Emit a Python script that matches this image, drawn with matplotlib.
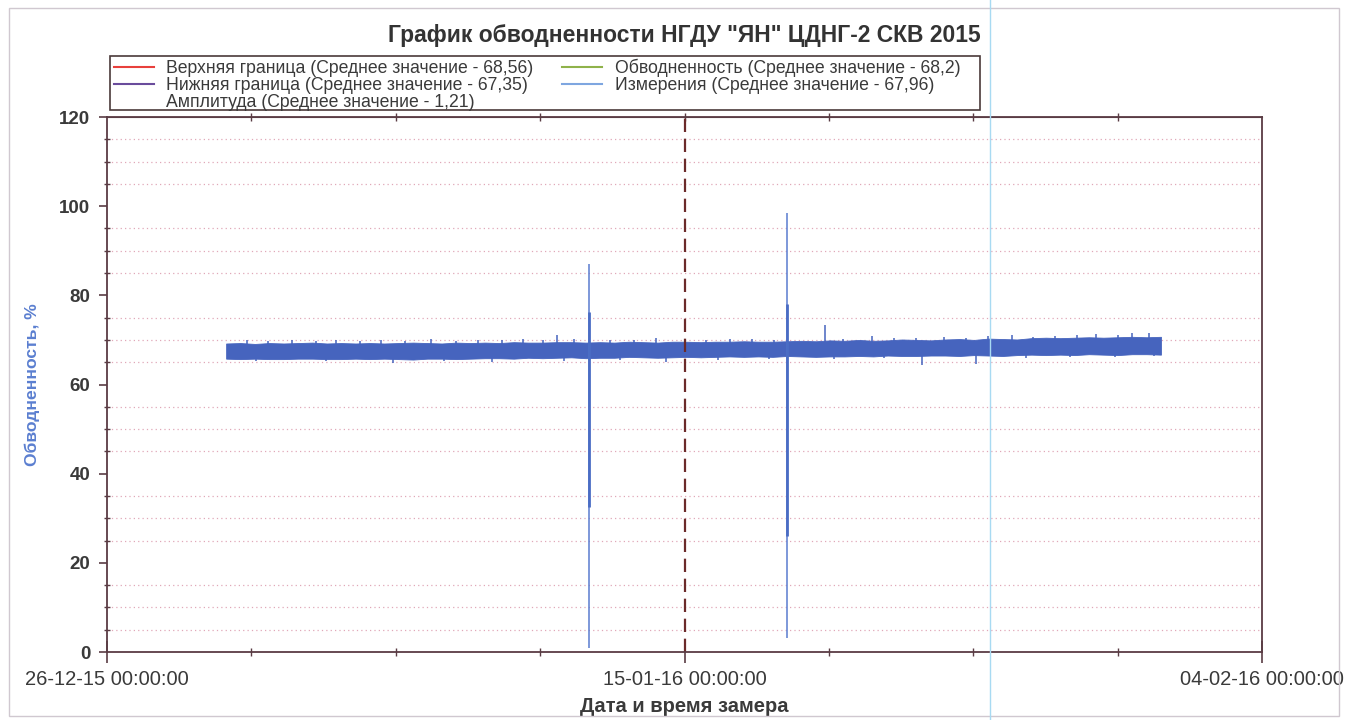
import numpy as np
import pandas as pd
import matplotlib
matplotlib.use("Agg")
import matplotlib.pyplot as plt
import matplotlib.dates as mdates
from matplotlib.lines import Line2D

plt.rcParams["font.family"] = ["Liberation Sans", "DejaVu Sans"]

# --- данные ---
band_start = "2015-12-30 03:00"
band_end = "2016-01-31 12:00"

# верхняя и нижняя огибающая плотного "шума" измерений, %
band_upper = [69.2, 69.3, 69.1, 69.3, 69.2, 69.3, 69.4, 69.2, 69.3, 69.2,
              69.3, 69.2, 69.3, 69.4, 69.3, 69.2, 69.4, 69.3,
              69.4, 69.3, 69.5, 69.4, 69.4, 69.5, 69.5, 69.4,
              69.5, 69.4, 69.6, 69.5, 69.4, 69.6, 69.6, 69.5,
              69.6, 69.6, 69.7, 69.6, 69.6, 69.7, 69.8, 69.7,
              69.9, 69.8, 70.0, 69.8, 69.9, 70.1, 70.0, 69.9,
              70.1, 70.2, 70.0, 70.3, 70.2, 70.1, 70.4, 70.5,
              70.4, 70.5, 70.6, 70.5, 70.6, 70.7, 70.6, 70.7]
band_lower = [65.8, 65.7, 65.8, 65.7, 65.7, 65.8, 65.8, 65.7, 65.7, 65.8,
              65.7, 65.8, 65.7, 65.6, 65.8, 65.8, 65.7, 65.8,
              65.9, 65.9, 65.8, 66.0, 65.9, 66.0, 66.1, 65.9,
              66.0, 66.0, 66.2, 66.1, 66.0, 66.1, 66.2, 66.1,
              66.2, 66.3, 66.2, 66.3, 66.2, 66.4, 66.3, 66.2,
              66.3, 66.3, 66.4, 66.3, 66.5, 66.4, 66.4, 66.5,
              66.5, 66.4, 66.6, 66.5, 66.4, 66.6, 66.7, 66.6,
              66.7, 66.6, 66.8, 66.7, 66.6, 66.8, 66.8, 66.7]

# отдельные выбросы над полосой
up_times = ["2015-12-30 20:00", "2015-12-31 14:00", "2016-01-01 10:00",
            "2016-01-02 06:00", "2016-01-02 22:00", "2016-01-03 18:00",
            "2016-01-04 12:00", "2016-01-05 08:00", "2016-01-06 05:00",
            "2016-01-07 02:00", "2016-01-07 20:00", "2016-01-08 16:00",
            "2016-01-09 10:00", "2016-01-10 02:00", "2016-01-10 14:00",
            "2016-01-11 04:00", "2016-01-12 10:00", "2016-01-13 06:00",
            "2016-01-14 00:00", "2016-01-15 18:00", "2016-01-16 14:00",
            "2016-01-17 08:00", "2016-01-18 02:00", "2016-01-19 21:00",
            "2016-01-20 12:00", "2016-01-21 12:00", "2016-01-22 06:00",
            "2016-01-23 00:00", "2016-01-24 00:00", "2016-01-24 18:00",
            "2016-01-25 12:00", "2016-01-26 08:00", "2016-01-27 02:00",
            "2016-01-27 20:00", "2016-01-28 14:00", "2016-01-29 06:00",
            "2016-01-30 00:00", "2016-01-30 12:00", "2016-01-31 02:00"]
up_vals = [69.9, 69.8, 69.9, 69.7, 70.0, 69.8, 69.9, 69.7, 70.1, 69.8,
           69.9, 70.0, 70.3, 69.9, 71.0, 70.3, 69.9, 70.0, 70.4, 70.0,
           70.1, 70.2, 70.0, 73.3, 70.3, 70.8, 70.4, 70.5, 70.6, 70.4,
           70.9, 71.0, 70.6, 70.8, 71.0, 71.4, 71.1, 71.6, 71.5]

# отдельные выбросы под полосой
down_times = ["2015-12-31 04:00", "2016-01-02 14:00", "2016-01-04 22:00",
              "2016-01-06 16:00", "2016-01-08 08:00", "2016-01-10 20:00",
              "2016-01-12 18:00", "2016-01-14 09:00", "2016-01-16 04:00",
              "2016-01-17 22:00", "2016-01-20 04:00", "2016-01-21 22:00",
              "2016-01-23 05:00", "2016-01-25 02:00", "2016-01-26 20:00",
              "2016-01-28 08:00", "2016-01-29 22:00", "2016-01-31 06:00"]
down_vals = [65.2, 65.3, 64.8, 65.2, 65.1, 65.3, 65.4, 65.0, 65.6,
             65.7, 65.8, 65.9, 64.3, 64.6, 66.0, 66.1, 66.2, 66.3]

# большие выбросы (тонкая часть и толстая часть)
spike_times = ["2016-01-11 16:20", "2016-01-18 13:10"]
spike_low = [0.8, 3.2]
spike_high = [87.0, 98.5]
spike_core_low = [32.5, 26.0]
spike_core_high = [76.3, 78.0]

legend_labels = ["Верхняя граница (Среднее значение - 68,56)",
                 "Нижняя граница (Среднее значение - 67,35)",
                 "Амплитуда (Среднее значение - 1,21)",
                 "Обводненность (Среднее значение - 68,2)",
                 "Измерения (Среднее значение - 67,96)"]
legend_colors = ["#e8403c", "#6a4c9c", "none", "#8fb24a", "#7ea6e0"]

x_start = pd.Timestamp("2015-12-26")
x_mid = pd.Timestamp("2016-01-15")
x_end = pd.Timestamp("2016-02-04")

blue = "#4664be"
frame = "#5a3c44"

fig = plt.figure(figsize=(13.48, 7.2), dpi=100)
ax = fig.add_axes([0.0794, 0.0944, 0.8568, 0.7431])

band_t = pd.date_range(band_start, band_end, periods=len(band_upper))
ax.fill_between(band_t, band_lower, band_upper, color=blue, lw=0.6, edgecolor=blue)

mid = (np.array(band_upper) + np.array(band_lower)) / 2
for times, vals in [(up_times, up_vals), (down_times, down_vals)]:
    t = pd.to_datetime(times)
    base = np.interp(mdates.date2num(t), mdates.date2num(band_t), mid)
    ax.vlines(t, base, vals, color=blue, lw=1.1)

st = pd.to_datetime(spike_times)
ax.vlines(st, spike_low, spike_high, color="#5a7cd0", lw=1.1)
ax.vlines(st, spike_core_low, spike_core_high, color="#4a6cc4", lw=2.0)

ax.axvline(x_mid, color="#6b2a2a", lw=1.6, ls=(0, (6, 3)))

ax.set_xlim(x_start, x_end)
ax.set_ylim(0, 120)

minor_days = pd.date_range(x_start, x_end, freq="5D")
ax.set_xticks([x_start, x_mid, x_end])
ax.xaxis.set_major_formatter(mdates.DateFormatter("%d-%m-%y %H:%M:%S"))
ax.set_xticks(minor_days, minor=True)
ax.set_yticks(np.arange(0, 121, 20))
ax.set_yticks(np.arange(0, 121, 5), minor=True)

for y in np.arange(5, 120, 5):
    if y % 20:
        ax.axhline(y, color="#e0a8b8", lw=0.9, ls=(0, (1, 2.5)), zorder=0)

ax.tick_params(axis="x", which="both", direction="inout", colors=frame,
               labelcolor="#3a3a3a", labelsize=14.5, pad=5)
ax.tick_params(axis="x", which="major", length=16, width=1.2)
ax.tick_params(axis="x", which="minor", length=6, width=1.0)
ax.tick_params(axis="y", which="major", direction="out", length=6, width=1.2,
               colors=frame, labelcolor="#3a3a3a", labelsize=13.5, pad=6)
ax.tick_params(axis="y", which="minor", direction="inout", length=5, width=1.0,
               colors=frame)
for lab in ax.get_yticklabels():
    lab.set_fontweight("bold")
for sp in ax.spines.values():
    sp.set_color(frame)
    sp.set_linewidth(1.3)

# верхние засечки — только промежуточные
top = ax.secondary_xaxis("top")
top.set_xticks(minor_days[1:-1])
top.tick_params(direction="inout", length=6, width=1.0, colors=frame,
                labeltop=False)
top.spines["top"].set_color(frame)

ax.set_xlabel("Дата и время замера", fontsize=14.5, fontweight="bold",
              color="#3a3a3a", labelpad=6)
ax.set_ylabel("Обводненность, %", fontsize=12.6, fontweight="bold",
              color="#5b7fd0", labelpad=14)

fig.text(0.508, 0.951, 'График обводненности НГДУ "ЯН" ЦДНГ-2 СКВ 2015',
         ha="center", va="center", fontsize=16.5, fontweight="bold", color="#333333")

handles = [Line2D([], [], color=c, lw=1.5) for c in legend_colors]
leg = fig.legend(handles, legend_labels, ncol=2, loc="upper left",
                 bbox_to_anchor=(0.0816, 0.923), fontsize=12.7, frameon=False,
                 handlelength=2.3, labelspacing=0.0, borderpad=0.2,
                 handletextpad=0.7, columnspacing=1.6, borderaxespad=0)
for t in leg.get_texts():
    t.set_color("#3a3a3a")
fig.add_artist(plt.Rectangle((0.0816, 0.8472), 0.6454, 0.075,
                             transform=fig.transFigure, fill=False,
                             edgecolor="#4a3a3a", lw=1.2))

# рамка вокруг всего рисунка и голубая линия скана
fig.add_artist(plt.Rectangle((0.007, 0.006), 0.986, 0.983, transform=fig.transFigure,
                             fill=False, edgecolor="#d0c8d0", lw=1.0))
fig.add_artist(Line2D([0.7345, 0.7345], [0, 1], transform=fig.transFigure,
                      color="#a8daf2", lw=1.0))

fig.savefig("out.png", dpi=100)
